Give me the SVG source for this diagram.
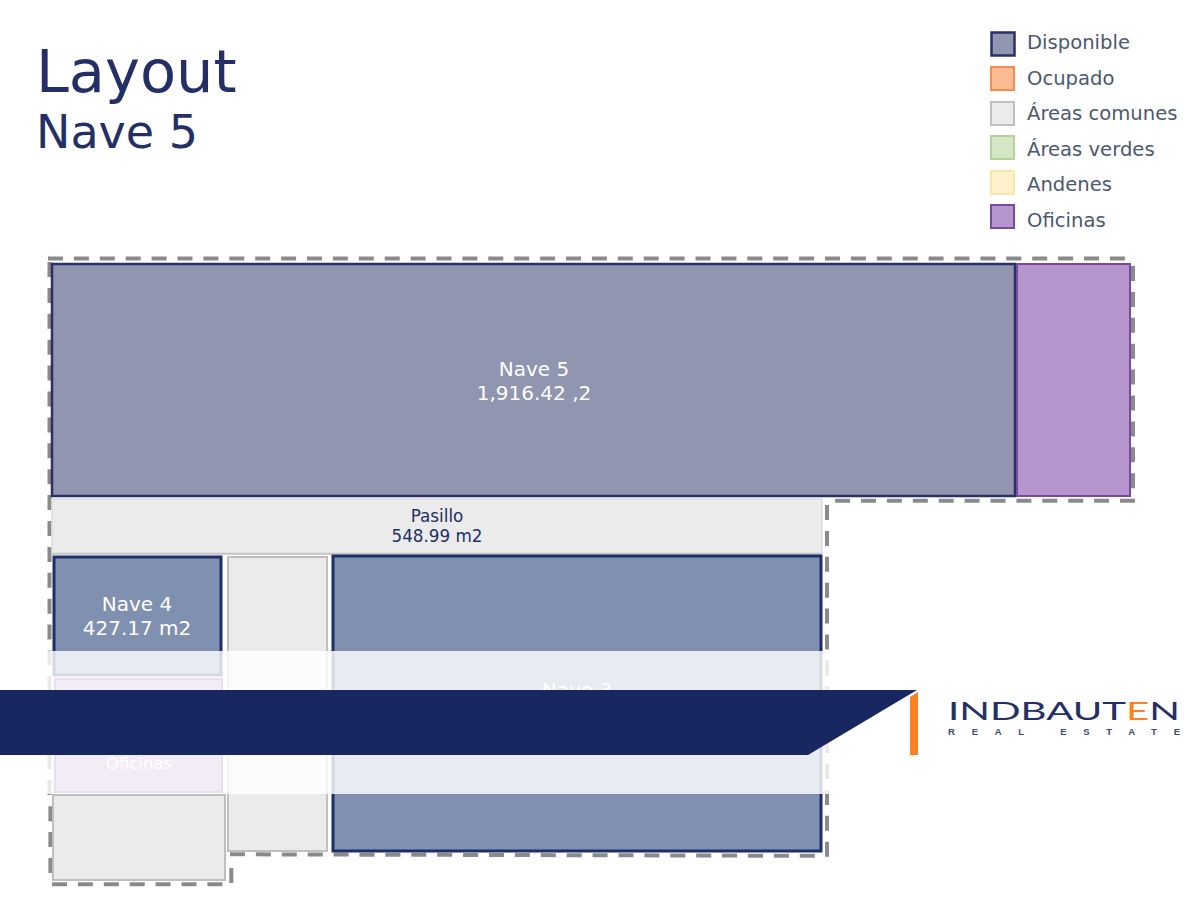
<svg xmlns="http://www.w3.org/2000/svg" width="1200" height="900" viewBox="0 0 1200 900">
<style>
text{font-family:"DejaVu Sans","Liberation Sans",sans-serif}
.title{fill:#232f66}
.leg{font-size:19.6px;fill:#4c586e}
.lab{font-size:20px;fill:#fff;text-anchor:middle}
.labd{font-size:16.8px;fill:#232f66;text-anchor:middle}
.dis{fill:#9095b0;stroke:#2a3068;stroke-width:2.5}
.dis2{fill:#8090b0;stroke:#1f2d68;stroke-width:3}
.com{fill:#ebebeb;stroke:#bfbfbf;stroke-width:2}
.ofi{fill:#b495ce;stroke:#7a4a9e;stroke-width:2}
.dash{fill:none;stroke:#8a8a8a;stroke-width:4;stroke-dasharray:15 10.9}
</style>
<rect width="1200" height="900" fill="#fff"/>
<g id="titulo">
<text class="title" x="36" y="92" font-size="59">Layout</text>
<text class="title" x="36" y="148" font-size="46">Nave 5</text>
</g>
<g id="leyenda">
<rect x="991.5" y="32.5" width="23" height="23" class="dis"/><text class="leg" x="1027" y="49">Disponible</text>
<rect x="991" y="67" width="23" height="23" fill="#fdbb92" stroke="#f58c4d" stroke-width="2"/><text class="leg" x="1027" y="85">Ocupado</text>
<rect x="991" y="102" width="23" height="23" class="com"/><text class="leg" x="1027" y="120">Áreas comunes</text>
<rect x="991" y="136" width="23" height="23" fill="#d4e7c5" stroke="#b3d39b" stroke-width="2"/><text class="leg" x="1027" y="156">Áreas verdes</text>
<rect x="991" y="171" width="23" height="23" fill="#fff1cc" stroke="#fbe6a8" stroke-width="2"/><text class="leg" x="1027" y="191">Andenes</text>
<rect x="991" y="205" width="23" height="23" class="ofi"/><text class="leg" x="1027" y="227">Oficinas</text>
</g>
<g id="conectores">
<path class="dash" d="M48 258.5H1130"/>
<path class="dash" d="M1133 266V490"/>
<path class="dash" d="M1135 500.7H828"/>
<path class="dash" d="M827 505V857"/>
<path class="dash" d="M230 854.3L815 855.8"/>
<path class="dash" d="M231.3 868V884"/>
<path class="dash" d="M52 884.3H224"/>
<path class="dash" d="M50.4 873V797"/>
<path class="dash" d="M49.5 262V795"/>
</g>
<g id="nave5"><rect x="52" y="264" width="963" height="232" class="dis"/><text class="lab" x="534" y="376">Nave 5</text><text class="lab" x="534" y="400">1,916.42 ,2</text></g>
<g id="oficina1"><rect x="1017" y="264" width="113" height="232" class="ofi"/></g>
<g id="pasillo"><rect x="52" y="499" width="770" height="54" fill="#ebebeb" stroke="#dcdcdc" stroke-width="1.5"/><path d="M52 554H822" stroke="#bfbfbf" stroke-width="1.5"/><text class="labd" x="437" y="522">Pasillo</text><text class="labd" x="437" y="542">548.99 m2</text></g>
<g id="nave4"><rect x="54" y="557" width="167" height="118" class="dis2"/><text class="lab" x="137" y="611">Nave 4</text><text class="lab" x="137" y="635">427.17 m2</text></g>
<g id="comun1"><rect x="228" y="557" width="99" height="294" class="com"/></g>
<g id="nave3"><rect x="333" y="556" width="488" height="295" class="dis2"/><text class="lab" x="577" y="697">Nave 3</text></g>
<g id="oficina2"><rect x="55" y="679" width="167" height="113" class="ofi"/><text x="139" y="769" font-size="16.5" fill="#fff" text-anchor="middle">Oficinas</text></g>
<g id="comun2"><rect x="53" y="795" width="172" height="85" class="com"/></g>
<rect id="velo" x="0" y="651" width="900" height="143" fill="#fff" fill-opacity="0.82"/>
<g id="banda">
<polygon points="0,690 917,690 808,755 0,755" fill="#182760"/>
<polygon points="910,697 918,692 918,755 910,755" fill="#fb8122"/>
</g>
<g id="logo">
<text x="948" y="720" font-size="25" textLength="232" lengthAdjust="spacingAndGlyphs" fill="#232f66" style="font-family:Lato,'Liberation Sans',sans-serif;font-weight:400">INDBAUT<tspan fill="#fb8122">E</tspan>N</text>
<text x="948" y="735" font-size="9.5" textLength="232" lengthAdjust="spacing" fill="#3c4870" font-weight="700" style="font-family:'Liberation Sans',sans-serif">REAL ESTATE</text>
</g>
</svg>
